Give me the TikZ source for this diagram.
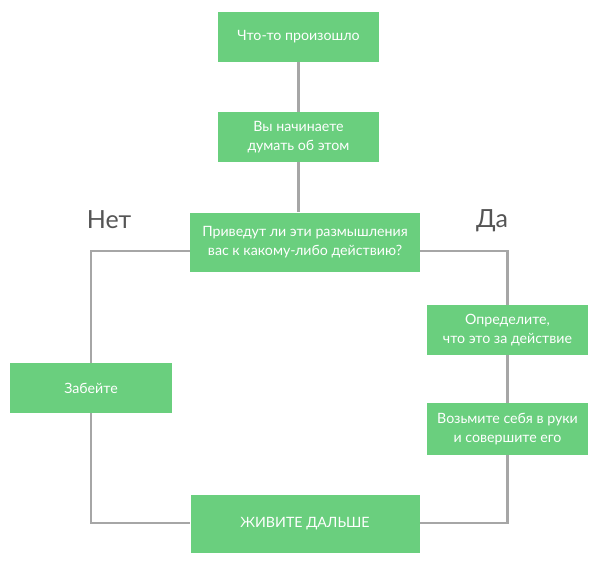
\documentclass[tikz,border=0pt]{standalone}
\usepackage{fontspec}
\setmainfont{Lato}
\definecolor{boxgreen}{RGB}{106,207,126}
\definecolor{linegray}{RGB}{166,166,166}
\definecolor{labelgray}{RGB}{85,85,85}
\begin{document}
\begin{tikzpicture}[x=1pt,y=-1pt,
  stepbox/.style={fill=boxgreen, text=white, minimum width=161pt, minimum height=50pt,
    inner sep=0pt, align=center, font=\fontsize{14.2}{19}\selectfont},
  conn/.style={draw=linegray, line width=2.6pt},
  lbl/.style={text=labelgray, font=\fontsize{25}{28}\selectfont}]
\useasboundingbox (0,0) rectangle (600,581);
\node[stepbox] (a) at (298.5,37) {Что-то произошло};
\node[stepbox] (b) at (298.5,137) {Вы начинаете\\думать об этом};
\node[stepbox, minimum width=230pt, minimum height=59pt] (q) at (305,242) {Приведут ли эти размышления\\вас к какому-либо действию?};
\node[stepbox, minimum width=162pt] (z) at (91,388) {Забейте};
\node[stepbox] (d1) at (507.5,330) {Определите,\\что это за действие};
\node[stepbox, minimum height=52pt] (d2) at (507.5,429) {Возьмите себя в руки\\и совершите его};
\node[stepbox, minimum width=229pt, minimum height=58pt] (e) at (305,524) {ЖИВИТЕ ДАЛЬШЕ};
\node[lbl] (no) at (109,220) {Нет};
\node[lbl] (yes) at (492,221) {Да};
\coordinate (ql) at (190,251);
\coordinate (qr) at (420,251);
\coordinate (el) at (190,523);
\coordinate (er) at (420,523);
\draw[conn] (a.south) -- (b.north);
\draw[conn] (b.south) -- (b.south |- q.north);
\draw[conn] (ql) -| (z.north);
\draw[conn] (z.south) |- (el);
\draw[conn] (qr) -| (d1.north);
\draw[conn] (d1.south) -- (d2.north);
\draw[conn] (d2.south) |- (er);
\end{tikzpicture}
\end{document}
